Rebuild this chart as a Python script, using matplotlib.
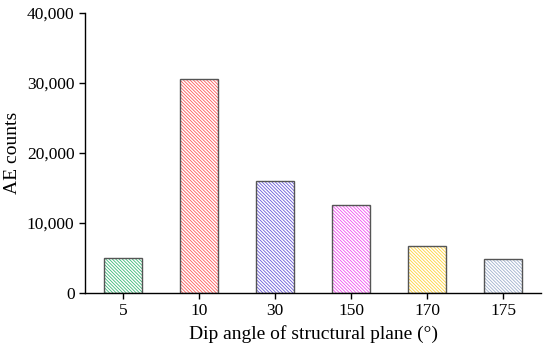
import matplotlib
matplotlib.use("Agg")
import matplotlib.pyplot as plt
from matplotlib.ticker import FuncFormatter

categories = ["5", "10", "30", "150", "170", "175"]
values = [5000, 30600, 16000, 12500, 6700, 4800]
colors = ["#3cb878", "#ff5a5a", "#6a5ad8", "#f050f0", "#ffd23c", "#9fb0cc"]

plt.rcParams['font.family'] = ['Liberation Serif', 'DejaVu Serif']
plt.rcParams['hatch.linewidth'] = 0.6

fig = plt.figure(figsize=(5.5, 3.5), dpi=100)
ax = fig.add_axes([0.1545, 0.163, 0.83, 0.80])
x = list(range(len(categories)))
ax.bar(x, values, width=0.5, color="white", edgecolor=colors, hatch="\\" * 10, linewidth=0)
ax.bar(x, values, width=0.5, fill=False, edgecolor="#555555", linewidth=1.0)
ax.set_xlim(-0.5, len(categories) - 0.5)
ax.set_ylim(0, 40000)
ax.set_yticks([0, 10000, 20000, 30000, 40000])
ax.yaxis.set_major_formatter(FuncFormatter(lambda v, p: f"{int(v):,}"))
ax.set_xticks(x)
ax.set_xticklabels(categories)
for s in ["top", "right"]:
    ax.spines[s].set_visible(False)
for s in ["left", "bottom"]:
    ax.spines[s].set_linewidth(1.0)
ax.tick_params(axis="both", labelsize=12.5, direction="out", length=4, width=1)
ax.set_ylabel("AE counts", fontsize=14)
ax.set_xlabel("Dip angle of structural plane (°)", fontsize=14)
fig.savefig("out.png", dpi=100)
